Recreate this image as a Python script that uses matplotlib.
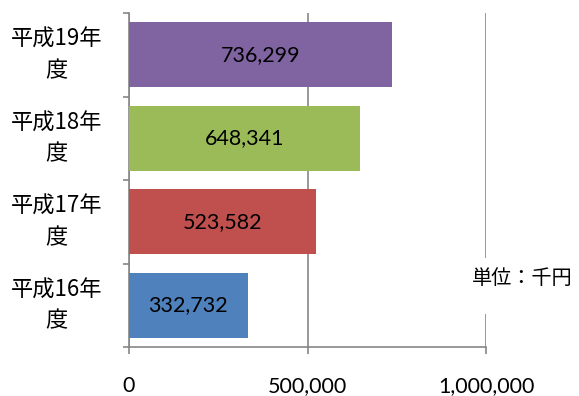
import matplotlib
matplotlib.use("Agg")
import matplotlib.pyplot as plt
from matplotlib.patches import Rectangle

years = ["平成16年\n度", "平成17年\n度", "平成18年\n度", "平成19年\n度"]
amounts = [332732, 523582, 648341, 736299]
bar_colors = ["#4F81BD", "#C0504D", "#9BBB59", "#8064A2"]
xticks = [0, 500000, 1000000]
xtick_labels = ["0", "500,000", "1,000,000"]

jp = ["Noto Sans CJK JP", "DejaVu Sans"]
num_font = ["Lato", "DejaVu Sans"]
axis_gray = "#868686"

fig = plt.figure(figsize=(5.79, 3.96), dpi=100)
ax = fig.add_axes([129 / 579, 1 - 347 / 396, (486 - 129) / 579, (347 - 13) / 396])

pos = list(range(len(years)))
ax.barh(pos, amounts, height=0.78, color=bar_colors, zorder=3)
for p, v in zip(pos, amounts):
    ax.text(v / 2, p, f"{v:,}", ha="center", va="center", fontsize=15.5,
            family=num_font, color="black", zorder=4)

ax.set_xlim(0, 1000000)
ax.set_ylim(-0.5, len(years) - 0.5)

ax.set_xticks(xticks)
ax.set_xticklabels(xtick_labels, family=num_font, fontsize=15.5)
ax.set_yticks(pos)
ax.set_yticklabels(years, family=jp, fontsize=16, multialignment="center",
                   linespacing=1.45, va="center")
ax.set_yticks([p - 0.5 for p in pos] + [len(years) - 0.5], minor=True)

ax.tick_params(axis="x", direction="out", length=5, width=1.2, color=axis_gray, pad=16)
ax.tick_params(axis="y", which="major", length=0, pad=19)
ax.tick_params(axis="y", which="minor", direction="out", length=4.5, width=1.2,
               color=axis_gray)

ax.xaxis.grid(True, color=axis_gray, linewidth=1.2, zorder=0)
ax.set_axisbelow(True)
for side in ["top", "right"]:
    ax.spines[side].set_visible(False)
for side in ["left", "bottom"]:
    ax.spines[side].set_color(axis_gray)
    ax.spines[side].set_linewidth(1.2)

# unit label sits in a white box over the right gridline
fig.patches.append(Rectangle((468 / 579, 1 - 314 / 396), 110 / 579, 56 / 396,
                             transform=fig.transFigure, facecolor="white",
                             edgecolor="none", zorder=5))
fig.text(522 / 579, 1 - 278 / 396, "単位：千円", ha="center", va="center",
         fontsize=14.5, family=jp, zorder=6)

fig.savefig("out.png", dpi=100)
